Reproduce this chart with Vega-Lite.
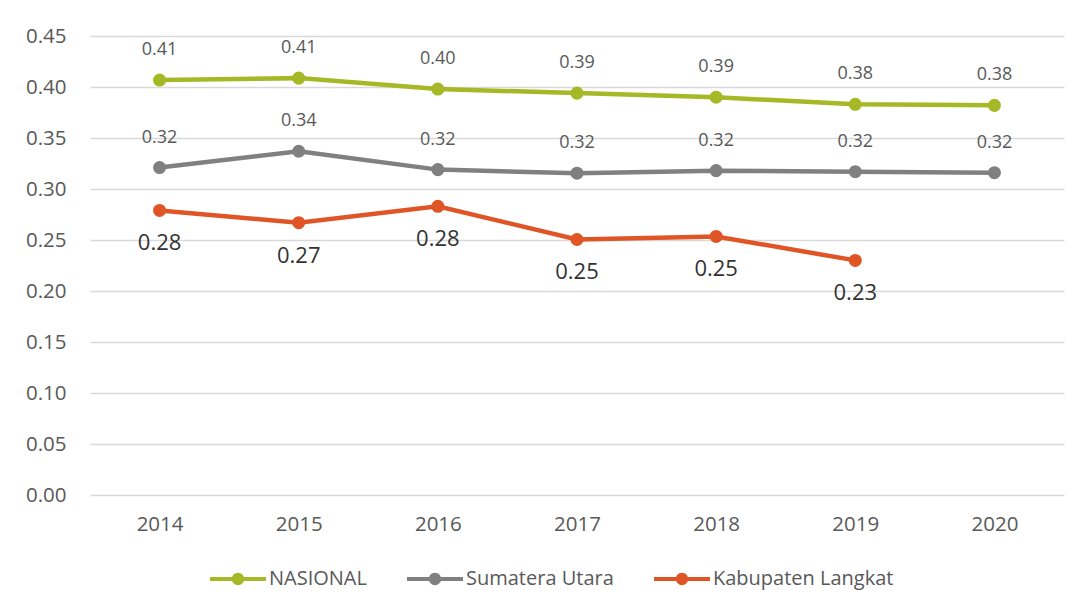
{
  "$schema": "https://vega.github.io/schema/vega-lite/v6.json",
  "width": 974,
  "height": 459,
  "autosize": {"type": "none"},
  "padding": {"left": 90, "top": 36, "right": 19, "bottom": 116},
  "background": "white",
  "config": {
    "font": "Open Sans",
    "view": {"stroke": null},
    "axis": {"labelFont": "Open Sans", "labelColor": "#595959", "labelFontSize": 20.5, "domain": false, "ticks": false, "title": null}
  },
  "data": {
    "values": [
      {"year": "2014", "series": "NASIONAL", "value": 0.4068},
      {"year": "2015", "series": "NASIONAL", "value": 0.4087},
      {"year": "2016", "series": "NASIONAL", "value": 0.398},
      {"year": "2017", "series": "NASIONAL", "value": 0.394},
      {"year": "2018", "series": "NASIONAL", "value": 0.390},
      {"year": "2019", "series": "NASIONAL", "value": 0.383},
      {"year": "2020", "series": "NASIONAL", "value": 0.382},
      {"year": "2014", "series": "Sumatera Utara", "value": 0.321},
      {"year": "2015", "series": "Sumatera Utara", "value": 0.337},
      {"year": "2016", "series": "Sumatera Utara", "value": 0.319},
      {"year": "2017", "series": "Sumatera Utara", "value": 0.3155},
      {"year": "2018", "series": "Sumatera Utara", "value": 0.318},
      {"year": "2019", "series": "Sumatera Utara", "value": 0.317},
      {"year": "2020", "series": "Sumatera Utara", "value": 0.316},
      {"year": "2014", "series": "Kabupaten Langkat", "value": 0.279},
      {"year": "2015", "series": "Kabupaten Langkat", "value": 0.267},
      {"year": "2016", "series": "Kabupaten Langkat", "value": 0.283},
      {"year": "2017", "series": "Kabupaten Langkat", "value": 0.2505},
      {"year": "2018", "series": "Kabupaten Langkat", "value": 0.2535},
      {"year": "2019", "series": "Kabupaten Langkat", "value": 0.230}
    ]
  },
  "encoding": {
    "x": {"field": "year", "type": "ordinal", "scale": {"paddingInner": 0, "paddingOuter": 0.5},
      "axis": {"labelAngle": 0, "labelPadding": 19, "grid": false}},
    "y": {"field": "value", "type": "quantitative",
      "scale": {"domain": [0, 0.45], "nice": false},
      "axis": {"values": [0, 0.05, 0.1, 0.15, 0.2, 0.25, 0.3, 0.35, 0.4, 0.45], "format": ".2f", "labelPadding": 24, "grid": true, "gridColor": "#D9D9D9", "gridWidth": 1.5}}
  },
  "layer": [
    {
      "mark": {"type": "line", "strokeWidth": 4.5, "point": {"filled": true, "size": 170, "opacity": 1}},
      "encoding": {
        "color": {"field": "series", "type": "nominal",
          "scale": {"domain": ["NASIONAL", "Sumatera Utara", "Kabupaten Langkat"], "range": ["#A5B825", "#808080", "#E05526"]},
          "legend": {
            "title": null, "orient": "none", "legendX": 120, "legendY": 515, "direction": "horizontal",
            "symbolType": "M-1,-0.075L1,-0.075L1,0.075L-1,0.075Z M-0.22,0A0.22,0.22 0 1,1 0.22,0A0.22,0.22 0 1,1 -0.22,0Z",
            "symbolSize": 3136, "symbolStrokeWidth": 0, "symbolOpacity": 1,
            "labelFont": "Open Sans", "labelFontSize": 20, "labelColor": "#595959", "labelOffset": 3, "labelLimit": 400, "columnPadding": 40,
            "encode": {"symbols": {"update": {"fill": {"scale": "color", "field": "value"}, "strokeWidth": {"value": 0}}}}
          }
        }
      }
    },
    {
      "transform": [{"filter": "datum.series !== 'Kabupaten Langkat'"}],
      "mark": {"type": "text", "dy": -30, "fontSize": 18, "color": "#595959", "baseline": "middle"},
      "encoding": {"text": {"field": "value", "type": "quantitative", "format": ".2f"}}
    },
    {
      "transform": [{"filter": "datum.series === 'Kabupaten Langkat'"}],
      "mark": {"type": "text", "dy": 33, "fontSize": 22, "fontWeight": "normal", "color": "#333333", "baseline": "middle"},
      "encoding": {"text": {"field": "value", "type": "quantitative", "format": ".2f"}}
    }
  ]
}
